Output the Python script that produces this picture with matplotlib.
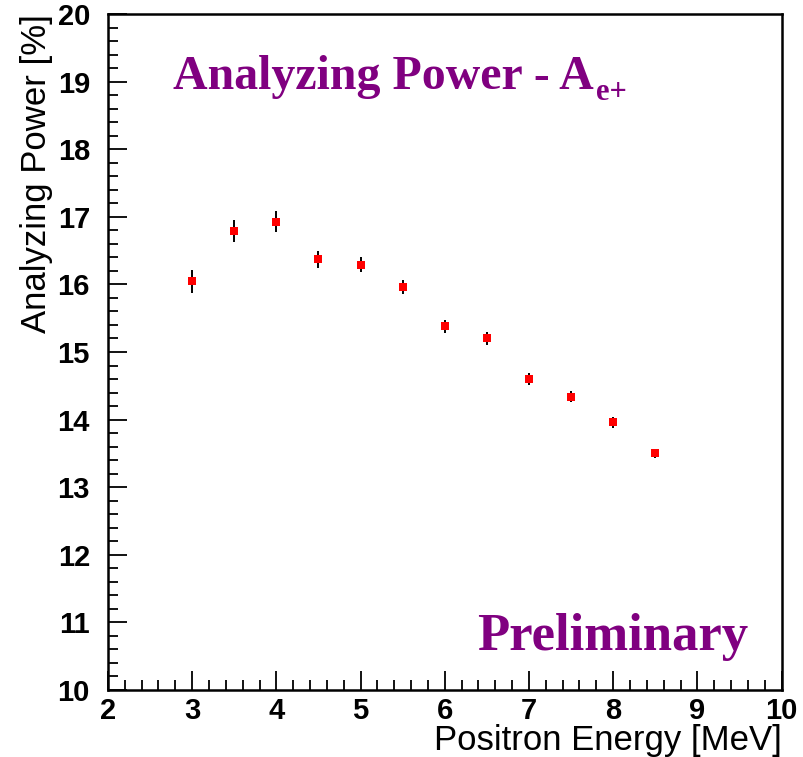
import matplotlib.pyplot as plt
from matplotlib.ticker import MultipleLocator

# positron energy [MeV], analyzing power [%] and its error
energy = [3.0, 3.5, 4.0, 4.5, 5.0, 5.5, 6.0, 6.5, 7.0, 7.5, 8.0, 8.5]
power = [16.05, 16.79, 16.93, 16.37, 16.29, 15.96, 15.38, 15.20, 14.60, 14.34, 13.96, 13.50]
power_err = [0.17, 0.16, 0.15, 0.125, 0.11, 0.10, 0.10, 0.09, 0.09, 0.08, 0.08, 0.07]

purple = '#800080'

fig = plt.figure(figsize=(8.04, 7.57), dpi=100)
ax = fig.add_axes([0.1343, 0.0885, 0.8378, 0.893])

ax.errorbar(energy, power, yerr=power_err, fmt='s', color='red', markersize=5.5,
            ecolor='black', elinewidth=1.4, capsize=0, markeredgewidth=0)

ax.set_xlim(2, 10)
ax.set_ylim(10, 20)
ax.xaxis.set_major_locator(MultipleLocator(1))
ax.xaxis.set_minor_locator(MultipleLocator(0.2))
ax.yaxis.set_major_locator(MultipleLocator(1))
ax.yaxis.set_minor_locator(MultipleLocator(0.2))

ax.tick_params(which='both', direction='in', top=False, right=False, width=1.3)
ax.tick_params(which='major', length=14)
ax.tick_params(which='minor', length=7)
ax.tick_params(axis='x', pad=5)
ax.tick_params(axis='y', pad=13)
for lbl in ax.get_xticklabels() + ax.get_yticklabels():
    lbl.set_family('Liberation Sans')
    lbl.set_fontweight('bold')
    lbl.set_fontsize(21)
for sp in ax.spines.values():
    sp.set_linewidth(1.8)

fig.text(0.973, 0.022, 'Positron Energy [MeV]', ha='right', va='center',
         family='Liberation Sans', fontsize=25)
fig.text(0.046, 0.982, 'Analyzing Power [%]', ha='center', va='top', rotation=90,
         family='Liberation Sans', fontsize=25)

title = ax.text(0.097, 0.889, 'Analyzing Power - A', transform=ax.transAxes,
                color=purple, family='Liberation Serif', fontweight='bold',
                fontsize=34.5, ha='left', va='baseline')
# subscript e+ hanging just below the title line
ax.annotate('e+', xy=(1, 0), xycoords=title, xytext=(1.5, -0.7),
            textcoords='offset points', color=purple, family='Liberation Serif',
            fontweight='bold', fontsize=22, ha='left', va='baseline')
ax.text(0.95, 0.059, 'Preliminary', transform=ax.transAxes,
        color=purple, family='Liberation Serif', fontweight='bold', fontsize=38,
        ha='right', va='baseline')

fig.savefig('out.png', dpi=100)
